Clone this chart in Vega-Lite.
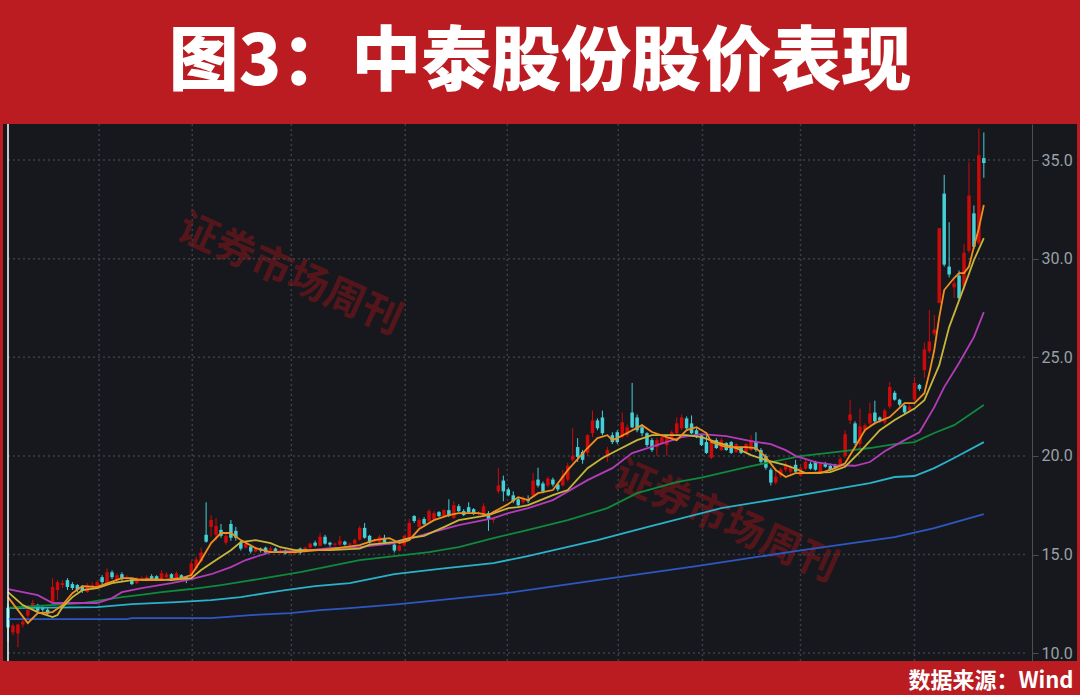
{
"$schema": "https://vega.github.io/schema/vega-lite/v6.json",
"width": 1074, "height": 537,
"autosize": {"type": "none"},
"padding": {"left": 3, "top": 124, "right": 3, "bottom": 34},
"background": "#BA1C21",
"view": {"fill": "#16181D", "stroke": null},
"title": {"text": "图3：中泰股份股价表现", "fontSize": 70, "font": "Noto Sans CJK SC", "fontWeight": 900, "color": "#FFFFFF", "anchor": "middle", "baseline": "alphabetic", "offset": -32},
"datasets": {
"wm": [{"i": 56.8, "v": 29.17, "t": "证券市场周刊"}, {"i": 144.8, "v": 16.64, "t": "证券市场周刊"}],
"gy": [{"v": 10}, {"v": 15}, {"v": 20}, {"v": 25}, {"v": 30}, {"v": 35}],
"gx": [{"i": 18.4}, {"i": 37.2}, {"i": 57.2}, {"i": 80.2}, {"i": 100.8}, {"i": 123.2}, {"i": 140.2}, {"i": 160}, {"i": 183}],
"k": [
{"i":0,"o":12.3,"h":12.5,"l":10.6,"c":11.3},{"i":1,"o":11.05,"h":11.5,"l":10.9,"c":11.4},{"i":2,"o":11.0,"h":11.5,"l":10.3,"c":11.45},{"i":3,"o":11.45,"h":11.8,"l":11.3,"c":11.6},{"i":4,"o":11.9,"h":12.35,"l":11.8,"c":12.2},{"i":5,"o":12.3,"h":12.7,"l":12.2,"c":12.55},{"i":6,"o":12.45,"h":12.5,"l":12.1,"c":12.15},{"i":7,"o":12.3,"h":12.4,"l":12.1,"c":12.2},{"i":8,"o":12.2,"h":12.3,"l":11.9,"c":12.0},{"i":9,"o":12.6,"h":13.8,"l":12.5,"c":13.35},
{"i":10,"o":13.2,"h":13.7,"l":12.7,"c":13.6},{"i":11,"o":13.45,"h":13.7,"l":13.3,"c":13.55},{"i":12,"o":13.7,"h":13.8,"l":13.2,"c":13.35},{"i":13,"o":13.5,"h":13.6,"l":13.2,"c":13.3},{"i":14,"o":13.45,"h":13.5,"l":13.1,"c":13.2},{"i":15,"o":13.35,"h":13.45,"l":13.05,"c":13.15},{"i":16,"o":13.1,"h":13.55,"l":13.05,"c":13.45},{"i":17,"o":13.3,"h":13.6,"l":13.2,"c":13.45},{"i":18,"o":13.3,"h":13.7,"l":13.25,"c":13.6},{"i":19,"o":13.85,"h":13.95,"l":13.5,"c":13.6},
{"i":20,"o":13.55,"h":14.3,"l":13.5,"c":14.1},{"i":21,"o":14.1,"h":14.2,"l":13.75,"c":13.85},{"i":22,"o":13.7,"h":14.05,"l":13.6,"c":13.95},{"i":23,"o":14.0,"h":14.1,"l":13.65,"c":13.75},{"i":24,"o":13.8,"h":13.95,"l":13.7,"c":13.85},{"i":25,"o":13.75,"h":13.8,"l":13.45,"c":13.5},{"i":26,"o":13.55,"h":13.85,"l":13.5,"c":13.75},{"i":27,"o":13.75,"h":13.9,"l":13.65,"c":13.8},{"i":28,"o":13.7,"h":13.95,"l":13.65,"c":13.85},{"i":29,"o":13.9,"h":14.0,"l":13.75,"c":13.8},
{"i":30,"o":13.9,"h":13.95,"l":13.65,"c":13.7},{"i":31,"o":13.75,"h":14.2,"l":13.7,"c":14.05},{"i":32,"o":13.85,"h":14.1,"l":13.8,"c":14.0},{"i":33,"o":14.0,"h":14.05,"l":13.75,"c":13.8},{"i":34,"o":13.8,"h":14.15,"l":13.75,"c":14.05},{"i":35,"o":13.95,"h":14.0,"l":13.75,"c":13.8},{"i":36,"o":13.85,"h":13.9,"l":13.55,"c":13.7},{"i":37,"o":13.85,"h":14.7,"l":13.8,"c":14.55},{"i":38,"o":14.3,"h":14.9,"l":14.2,"c":14.75},{"i":39,"o":14.65,"h":15.35,"l":14.6,"c":15.1},
{"i":40,"o":16.0,"h":17.65,"l":15.6,"c":15.65},{"i":41,"o":16.4,"h":17.0,"l":15.9,"c":16.75},{"i":42,"o":16.0,"h":16.85,"l":15.7,"c":16.45},{"i":43,"o":16.25,"h":16.55,"l":15.85,"c":15.95},{"i":44,"o":15.6,"h":16.1,"l":15.5,"c":15.95},{"i":45,"o":16.55,"h":16.75,"l":15.7,"c":15.85},{"i":46,"o":16.2,"h":16.4,"l":15.7,"c":15.85},{"i":47,"o":15.6,"h":15.7,"l":15.2,"c":15.3},{"i":48,"o":15.35,"h":15.65,"l":15.3,"c":15.55},{"i":49,"o":15.4,"h":15.5,"l":15.05,"c":15.15},
{"i":50,"o":15.15,"h":15.4,"l":15.1,"c":15.3},{"i":51,"o":15.3,"h":15.35,"l":15.1,"c":15.2},{"i":52,"o":15.35,"h":15.4,"l":15.0,"c":15.1},{"i":53,"o":15.2,"h":15.4,"l":15.1,"c":15.3},{"i":54,"o":15.3,"h":15.35,"l":15.1,"c":15.15},{"i":55,"o":15.1,"h":15.3,"l":15.05,"c":15.2},{"i":56,"o":15.2,"h":15.25,"l":15.0,"c":15.05},{"i":57,"o":15.05,"h":15.15,"l":15.0,"c":15.07},{"i":58,"o":15.05,"h":15.25,"l":15.0,"c":15.2},{"i":59,"o":15.3,"h":15.35,"l":15.0,"c":15.1},
{"i":60,"o":15.15,"h":15.4,"l":15.1,"c":15.35},{"i":61,"o":15.35,"h":15.6,"l":15.3,"c":15.55},{"i":62,"o":15.6,"h":15.7,"l":15.4,"c":15.45},{"i":63,"o":15.45,"h":16.1,"l":15.4,"c":15.9},{"i":64,"o":15.9,"h":16.0,"l":15.5,"c":15.55},{"i":65,"o":15.6,"h":15.65,"l":15.4,"c":15.5},{"i":66,"o":15.5,"h":15.6,"l":15.4,"c":15.55},{"i":67,"o":15.5,"h":15.95,"l":15.45,"c":15.7},{"i":68,"o":15.65,"h":15.7,"l":15.45,"c":15.5},{"i":69,"o":15.5,"h":15.6,"l":15.4,"c":15.55},
{"i":70,"o":15.55,"h":15.8,"l":15.5,"c":15.75},{"i":71,"o":15.75,"h":16.45,"l":15.7,"c":16.35},{"i":72,"o":16.35,"h":16.6,"l":15.8,"c":15.85},{"i":73,"o":15.95,"h":16.0,"l":15.55,"c":15.6},{"i":74,"o":15.65,"h":15.8,"l":15.6,"c":15.75},{"i":75,"o":15.6,"h":16.0,"l":15.55,"c":15.9},{"i":76,"o":15.85,"h":16.0,"l":15.5,"c":15.6},{"i":77,"o":15.6,"h":15.65,"l":15.5,"c":15.55},{"i":78,"o":15.5,"h":15.55,"l":15.1,"c":15.2},{"i":79,"o":15.2,"h":15.5,"l":15.15,"c":15.45},
{"i":80,"o":15.45,"h":16.0,"l":15.4,"c":15.95},{"i":81,"o":15.8,"h":16.8,"l":15.75,"c":16.6},{"i":82,"o":16.95,"h":17.0,"l":16.6,"c":16.7},{"i":83,"o":16.4,"h":16.85,"l":16.35,"c":16.75},{"i":84,"o":16.8,"h":16.9,"l":16.5,"c":16.55},{"i":85,"o":16.7,"h":17.3,"l":16.65,"c":17.2},{"i":86,"o":16.8,"h":17.2,"l":16.75,"c":17.1},{"i":87,"o":17.15,"h":17.2,"l":16.9,"c":16.95},{"i":88,"o":16.95,"h":17.3,"l":16.9,"c":17.25},{"i":89,"o":17.25,"h":17.8,"l":16.9,"c":16.95},
{"i":90,"o":16.85,"h":17.7,"l":16.8,"c":17.5},{"i":91,"o":17.45,"h":17.55,"l":17.15,"c":17.2},{"i":92,"o":17.2,"h":17.3,"l":16.95,"c":17.0},{"i":93,"o":17.4,"h":17.65,"l":17.1,"c":17.15},{"i":94,"o":17.3,"h":17.35,"l":17.0,"c":17.05},{"i":95,"o":17.05,"h":17.2,"l":16.95,"c":17.1},{"i":96,"o":17.05,"h":17.6,"l":17.0,"c":17.45},{"i":97,"o":17.1,"h":17.2,"l":16.2,"c":16.8},{"i":98,"o":16.75,"h":16.85,"l":16.6,"c":16.8},{"i":99,"o":18.2,"h":19.4,"l":18.1,"c":18.5},
{"i":100,"o":18.75,"h":19.0,"l":17.7,"c":18.2},{"i":101,"o":18.3,"h":18.4,"l":17.95,"c":18.0},{"i":102,"o":18.0,"h":18.2,"l":17.6,"c":17.7},{"i":103,"o":17.8,"h":17.9,"l":17.4,"c":17.5},{"i":104,"o":17.65,"h":17.95,"l":17.55,"c":17.85},{"i":105,"o":17.8,"h":18.0,"l":17.6,"c":17.7},{"i":106,"o":18.0,"h":19.15,"l":17.95,"c":18.75},{"i":107,"o":18.8,"h":19.4,"l":18.4,"c":18.5},{"i":108,"o":18.6,"h":18.7,"l":18.1,"c":18.2},{"i":109,"o":18.5,"h":18.95,"l":18.4,"c":18.85},
{"i":110,"o":18.8,"h":18.9,"l":18.45,"c":18.55},{"i":111,"o":18.55,"h":18.6,"l":18.2,"c":18.3},{"i":112,"o":18.5,"h":19.3,"l":18.45,"c":19.0},{"i":113,"o":18.8,"h":19.65,"l":18.7,"c":19.5},{"i":114,"o":19.8,"h":21.4,"l":19.7,"c":20.0},{"i":115,"o":20.45,"h":20.9,"l":19.7,"c":19.95},{"i":116,"o":20.2,"h":20.3,"l":19.6,"c":19.8},{"i":117,"o":20.15,"h":21.1,"l":20.0,"c":21.05},{"i":118,"o":21.15,"h":22.3,"l":20.95,"c":21.8},{"i":119,"o":21.8,"h":21.9,"l":21.3,"c":21.4},
{"i":120,"o":21.95,"h":22.3,"l":21.05,"c":21.15},{"i":121,"o":19.95,"h":20.45,"l":19.7,"c":20.3},{"i":122,"o":21.05,"h":21.2,"l":20.6,"c":20.7},{"i":123,"o":21.2,"h":21.3,"l":20.6,"c":20.7},{"i":124,"o":20.95,"h":22.2,"l":20.9,"c":21.7},{"i":125,"o":21.05,"h":21.6,"l":20.95,"c":21.45},{"i":126,"o":22.2,"h":23.7,"l":21.4,"c":21.45},{"i":127,"o":21.95,"h":22.1,"l":21.2,"c":21.3},{"i":128,"o":21.45,"h":21.6,"l":21.0,"c":21.15},{"i":129,"o":21.15,"h":21.2,"l":20.45,"c":20.55},
{"i":130,"o":20.8,"h":20.9,"l":20.2,"c":20.3},{"i":131,"o":20.45,"h":20.9,"l":20.0,"c":20.8},{"i":132,"o":20.65,"h":21.1,"l":20.6,"c":20.95},{"i":133,"o":20.55,"h":21.0,"l":20.0,"c":20.9},{"i":134,"o":20.9,"h":21.3,"l":20.85,"c":21.2},{"i":135,"o":21.15,"h":21.95,"l":21.1,"c":21.65},{"i":136,"o":21.4,"h":22.1,"l":21.3,"c":21.95},{"i":137,"o":21.9,"h":22.0,"l":21.35,"c":21.4},{"i":138,"o":21.65,"h":22.05,"l":21.1,"c":21.15},{"i":139,"o":21.3,"h":21.4,"l":20.9,"c":20.95},
{"i":140,"o":21.05,"h":21.1,"l":20.5,"c":20.55},{"i":141,"o":20.7,"h":21.2,"l":20.1,"c":20.15},{"i":142,"o":19.9,"h":20.8,"l":19.85,"c":20.7},{"i":143,"o":20.8,"h":20.9,"l":20.35,"c":20.4},{"i":144,"o":20.3,"h":20.9,"l":20.25,"c":20.8},{"i":145,"o":20.65,"h":20.7,"l":20.25,"c":20.3},{"i":146,"o":20.7,"h":20.75,"l":20.1,"c":20.15},{"i":147,"o":20.2,"h":20.65,"l":20.15,"c":20.6},{"i":148,"o":20.45,"h":20.5,"l":20.1,"c":20.15},{"i":149,"o":20.2,"h":20.65,"l":20.15,"c":20.6},
{"i":150,"o":20.3,"h":21.05,"l":20.25,"c":20.8},{"i":151,"o":20.7,"h":21.2,"l":20.2,"c":20.3},{"i":152,"o":20.3,"h":20.4,"l":19.6,"c":19.7},{"i":153,"o":20.0,"h":20.1,"l":19.3,"c":19.4},{"i":154,"o":19.3,"h":19.4,"l":18.5,"c":18.65},{"i":155,"o":18.65,"h":19.3,"l":18.55,"c":18.95},{"i":156,"o":19.0,"h":19.4,"l":18.9,"c":19.3},{"i":157,"o":19.3,"h":19.7,"l":19.2,"c":19.55},{"i":158,"o":19.2,"h":19.55,"l":19.1,"c":19.45},{"i":159,"o":19.55,"h":19.8,"l":19.1,"c":19.2},
{"i":160,"o":19.0,"h":19.5,"l":18.95,"c":19.4},{"i":161,"o":19.35,"h":19.85,"l":19.3,"c":19.7},{"i":162,"o":19.6,"h":19.7,"l":19.3,"c":19.35},{"i":163,"o":19.7,"h":19.75,"l":19.25,"c":19.3},{"i":164,"o":19.15,"h":19.7,"l":19.1,"c":19.6},{"i":165,"o":19.6,"h":19.7,"l":19.4,"c":19.45},{"i":166,"o":19.5,"h":19.6,"l":19.25,"c":19.3},{"i":167,"o":19.55,"h":19.6,"l":19.35,"c":19.4},{"i":168,"o":19.45,"h":19.95,"l":19.4,"c":19.85},{"i":169,"o":20.0,"h":21.3,"l":19.9,"c":21.1},
{"i":170,"o":21.8,"h":22.85,"l":21.6,"c":22.1},{"i":171,"o":21.65,"h":21.75,"l":20.55,"c":20.65},{"i":172,"o":20.6,"h":22.4,"l":20.3,"c":21.5},{"i":173,"o":21.3,"h":21.65,"l":21.2,"c":21.55},{"i":174,"o":21.65,"h":22.7,"l":21.55,"c":22.15},{"i":175,"o":22.2,"h":22.8,"l":21.6,"c":21.75},{"i":176,"o":21.95,"h":22.0,"l":21.7,"c":21.8},{"i":177,"o":21.7,"h":22.4,"l":21.6,"c":22.3},{"i":178,"o":22.5,"h":23.75,"l":22.4,"c":23.5},{"i":179,"o":23.2,"h":23.3,"l":22.8,"c":22.85},
{"i":180,"o":22.85,"h":22.9,"l":22.5,"c":22.6},{"i":181,"o":22.55,"h":22.6,"l":22.1,"c":22.2},{"i":182,"o":22.3,"h":22.6,"l":22.2,"c":22.5},{"i":183,"o":22.85,"h":24.0,"l":22.8,"c":23.7},{"i":184,"o":23.6,"h":23.65,"l":23.3,"c":23.4},{"i":185,"o":24.35,"h":25.75,"l":23.95,"c":25.4},{"i":186,"o":25.3,"h":27.4,"l":25.2,"c":25.8},{"i":187,"o":26.2,"h":27.15,"l":26.1,"c":26.4},{"i":188,"o":27.75,"h":31.55,"l":27.75,"c":31.55},{"i":189,"o":33.3,"h":34.25,"l":29.6,"c":29.7},
{"i":190,"o":29.6,"h":31.85,"l":29.05,"c":29.2},{"i":191,"o":28.55,"h":28.95,"l":28.0,"c":28.75},{"i":192,"o":29.15,"h":29.4,"l":27.9,"c":28.0},{"i":193,"o":28.6,"h":30.75,"l":28.4,"c":30.3},{"i":194,"o":30.4,"h":34.9,"l":30.3,"c":33.2},{"i":195,"o":32.3,"h":32.7,"l":30.5,"c":30.6},{"i":196,"o":30.8,"h":36.6,"l":30.7,"c":35.25},{"i":197,"o":35.1,"h":36.4,"l":34.1,"c":34.85}
],
"ma": [
{"s":"MA250","i":0,"v":11.72},{"s":"MA250","i":24,"v":11.72},{"s":"MA250","i":25,"v":11.77},{"s":"MA250","i":41,"v":11.77},{"s":"MA250","i":49,"v":11.93},{"s":"MA250","i":57,"v":12.03},{"s":"MA250","i":63,"v":12.18},{"s":"MA250","i":69,"v":12.28},{"s":"MA250","i":79,"v":12.48},{"s":"MA250","i":99,"v":12.99},{"s":"MA250","i":119,"v":13.7},{"s":"MA250","i":139,"v":14.41},{"s":"MA250","i":159,"v":15.17},{"s":"MA250","i":179,"v":15.88},{"s":"MA250","i":187,"v":16.34},{"s":"MA250","i":197,"v":17.05},
{"s":"MA120","i":0,"v":12.28},{"s":"MA120","i":18,"v":12.33},{"s":"MA120","i":25,"v":12.48},{"s":"MA120","i":34,"v":12.59},{"s":"MA120","i":41,"v":12.69},{"s":"MA120","i":47,"v":12.84},{"s":"MA120","i":52,"v":13.04},{"s":"MA120","i":56,"v":13.19},{"s":"MA120","i":62,"v":13.4},{"s":"MA120","i":69,"v":13.55},{"s":"MA120","i":78,"v":14.0},{"s":"MA120","i":88,"v":14.3},{"s":"MA120","i":98,"v":14.56},{"s":"MA120","i":104,"v":14.87},{"s":"MA120","i":119,"v":15.73},{"s":"MA120","i":129,"v":16.39},{"s":"MA120","i":144,"v":17.35},{"s":"MA120","i":160,"v":18.01},{"s":"MA120","i":174,"v":18.62},{"s":"MA120","i":179,"v":18.93},{"s":"MA120","i":183,"v":18.98},{"s":"MA120","i":187,"v":19.38},{"s":"MA120","i":191,"v":19.89},{"s":"MA120","i":197,"v":20.7},
{"s":"MA60","i":0,"v":12.3},{"s":"MA60","i":12,"v":12.48},{"s":"MA60","i":15,"v":12.54},{"s":"MA60","i":19,"v":12.69},{"s":"MA60","i":23,"v":12.84},{"s":"MA60","i":28,"v":12.99},{"s":"MA60","i":31,"v":13.09},{"s":"MA60","i":37,"v":13.25},{"s":"MA60","i":43,"v":13.45},{"s":"MA60","i":48,"v":13.65},{"s":"MA60","i":53,"v":13.85},{"s":"MA60","i":59,"v":14.11},{"s":"MA60","i":65,"v":14.41},{"s":"MA60","i":71,"v":14.72},{"s":"MA60","i":78,"v":14.92},{"s":"MA60","i":85,"v":15.12},{"s":"MA60","i":91,"v":15.37},{"s":"MA60","i":98,"v":15.83},{"s":"MA60","i":104,"v":16.19},{"s":"MA60","i":113,"v":16.74},{"s":"MA60","i":121,"v":17.35},{"s":"MA60","i":127,"v":18.11},{"s":"MA60","i":135,"v":18.67},{"s":"MA60","i":140,"v":18.9},{"s":"MA60","i":150,"v":19.48},{"s":"MA60","i":160,"v":19.99},{"s":"MA60","i":167,"v":20.19},{"s":"MA60","i":174,"v":20.4},{"s":"MA60","i":179,"v":20.6},{"s":"MA60","i":183,"v":20.7},{"s":"MA60","i":187,"v":21.16},{"s":"MA60","i":191,"v":21.56},{"s":"MA60","i":197,"v":22.58},
{"s":"MA20","i":0,"v":13.25},{"s":"MA20","i":6,"v":12.94},{"s":"MA20","i":9,"v":12.54},{"s":"MA20","i":15,"v":12.54},{"s":"MA20","i":18,"v":12.54},{"s":"MA20","i":21,"v":12.79},{"s":"MA20","i":23,"v":13.09},{"s":"MA20","i":27,"v":13.3},{"s":"MA20","i":33,"v":13.55},{"s":"MA20","i":37,"v":13.75},{"s":"MA20","i":41,"v":14.0},{"s":"MA20","i":45,"v":14.36},{"s":"MA20","i":48,"v":14.72},{"s":"MA20","i":53,"v":15.12},{"s":"MA20","i":61,"v":15.22},{"s":"MA20","i":65,"v":15.32},{"s":"MA20","i":71,"v":15.37},{"s":"MA20","i":78,"v":15.58},{"s":"MA20","i":85,"v":16.09},{"s":"MA20","i":91,"v":16.49},{"s":"MA20","i":98,"v":16.85},{"s":"MA20","i":101,"v":17.1},{"s":"MA20","i":105,"v":17.35},{"s":"MA20","i":110,"v":17.76},{"s":"MA20","i":117,"v":18.77},{"s":"MA20","i":122,"v":19.38},{"s":"MA20","i":126,"v":20.14},{"s":"MA20","i":131,"v":20.55},{"s":"MA20","i":136,"v":20.95},{"s":"MA20","i":140,"v":21.1},{"s":"MA20","i":145,"v":21.0},{"s":"MA20","i":150,"v":20.75},{"s":"MA20","i":154,"v":20.6},{"s":"MA20","i":157,"v":20.29},{"s":"MA20","i":159,"v":20.0},{"s":"MA20","i":163,"v":19.69},{"s":"MA20","i":167,"v":19.53},{"s":"MA20","i":171,"v":19.5},{"s":"MA20","i":174,"v":19.69},{"s":"MA20","i":177,"v":20.24},{"s":"MA20","i":181,"v":20.8},{"s":"MA20","i":184,"v":21.2},{"s":"MA20","i":187,"v":22.47},{"s":"MA20","i":189,"v":23.49},{"s":"MA20","i":192,"v":24.71},{"s":"MA20","i":195,"v":26.02},{"s":"MA20","i":197,"v":27.29},
{"s":"MA10","i":0,"v":13.09},{"s":"MA10","i":3,"v":12.43},{"s":"MA10","i":6,"v":12.08},{"s":"MA10","i":9,"v":11.83},{"s":"MA10","i":10,"v":11.93},{"s":"MA10","i":11,"v":12.33},{"s":"MA10","i":13,"v":12.84},{"s":"MA10","i":15,"v":13.19},{"s":"MA10","i":18,"v":13.3},{"s":"MA10","i":21,"v":13.55},{"s":"MA10","i":25,"v":13.7},{"s":"MA10","i":29,"v":13.75},{"s":"MA10","i":33,"v":13.7},{"s":"MA10","i":37,"v":13.8},{"s":"MA10","i":39,"v":14.21},{"s":"MA10","i":42,"v":14.72},{"s":"MA10","i":45,"v":15.22},{"s":"MA10","i":47,"v":15.63},{"s":"MA10","i":50,"v":15.73},{"s":"MA10","i":53,"v":15.58},{"s":"MA10","i":55,"v":15.37},{"s":"MA10","i":58,"v":15.22},{"s":"MA10","i":65,"v":15.22},{"s":"MA10","i":71,"v":15.3},{"s":"MA10","i":73,"v":15.5},{"s":"MA10","i":78,"v":15.63},{"s":"MA10","i":81,"v":15.83},{"s":"MA10","i":84,"v":15.95},{"s":"MA10","i":88,"v":16.39},{"s":"MA10","i":91,"v":16.74},{"s":"MA10","i":97,"v":17.0},{"s":"MA10","i":101,"v":17.35},{"s":"MA10","i":103,"v":17.4},{"s":"MA10","i":105,"v":17.5},{"s":"MA10","i":110,"v":18.01},{"s":"MA10","i":113,"v":18.27},{"s":"MA10","i":117,"v":19.38},{"s":"MA10","i":120,"v":19.89},{"s":"MA10","i":123,"v":20.29},{"s":"MA10","i":127,"v":20.8},{"s":"MA10","i":130,"v":21.05},{"s":"MA10","i":134,"v":21.05},{"s":"MA10","i":137,"v":21.05},{"s":"MA10","i":140,"v":20.95},{"s":"MA10","i":143,"v":20.7},{"s":"MA10","i":147,"v":20.4},{"s":"MA10","i":150,"v":20.04},{"s":"MA10","i":153,"v":19.79},{"s":"MA10","i":157,"v":19.53},{"s":"MA10","i":159,"v":19.35},{"s":"MA10","i":161,"v":19.13},{"s":"MA10","i":166,"v":19.18},{"s":"MA10","i":169,"v":19.45},{"s":"MA10","i":172,"v":20.2},{"s":"MA10","i":176,"v":21.3},{"s":"MA10","i":179,"v":21.82},{"s":"MA10","i":183,"v":22.4},{"s":"MA10","i":185,"v":22.83},{"s":"MA10","i":188,"v":24.6},{"s":"MA10","i":190,"v":26.53},{"s":"MA10","i":193,"v":28.56},{"s":"MA10","i":195,"v":29.93},{"s":"MA10","i":197,"v":31.04},
{"s":"MA5","i":0,"v":12.84},{"s":"MA5","i":4,"v":11.52},{"s":"MA5","i":6,"v":12.03},{"s":"MA5","i":9,"v":12.08},{"s":"MA5","i":11,"v":12.43},{"s":"MA5","i":13,"v":13.04},{"s":"MA5","i":15,"v":13.4},{"s":"MA5","i":18,"v":13.35},{"s":"MA5","i":19,"v":13.45},{"s":"MA5","i":23,"v":13.8},{"s":"MA5","i":25,"v":13.8},{"s":"MA5","i":27,"v":13.7},{"s":"MA5","i":31,"v":13.7},{"s":"MA5","i":35,"v":13.8},{"s":"MA5","i":37,"v":13.96},{"s":"MA5","i":39,"v":14.72},{"s":"MA5","i":41,"v":15.58},{"s":"MA5","i":43,"v":16.09},{"s":"MA5","i":45,"v":16.09},{"s":"MA5","i":47,"v":15.73},{"s":"MA5","i":50,"v":15.32},{"s":"MA5","i":53,"v":15.12},{"s":"MA5","i":58,"v":15.12},{"s":"MA5","i":65,"v":15.27},{"s":"MA5","i":68,"v":15.37},{"s":"MA5","i":71,"v":15.48},{"s":"MA5","i":74,"v":15.73},{"s":"MA5","i":77,"v":15.83},{"s":"MA5","i":79,"v":15.58},{"s":"MA5","i":81,"v":15.73},{"s":"MA5","i":83,"v":16.29},{"s":"MA5","i":86,"v":16.74},{"s":"MA5","i":89,"v":17.0},{"s":"MA5","i":91,"v":17.1},{"s":"MA5","i":95,"v":17.1},{"s":"MA5","i":97,"v":17.0},{"s":"MA5","i":98,"v":17.15},{"s":"MA5","i":101,"v":17.56},{"s":"MA5","i":103,"v":17.91},{"s":"MA5","i":105,"v":17.76},{"s":"MA5","i":107,"v":18.11},{"s":"MA5","i":110,"v":18.27},{"s":"MA5","i":113,"v":19.28},{"s":"MA5","i":117,"v":20.4},{"s":"MA5","i":119,"v":20.9},{"s":"MA5","i":121,"v":21.05},{"s":"MA5","i":122,"v":20.8},{"s":"MA5","i":123,"v":20.9},{"s":"MA5","i":125,"v":21.16},{"s":"MA5","i":128,"v":21.56},{"s":"MA5","i":130,"v":21.21},{"s":"MA5","i":133,"v":20.95},{"s":"MA5","i":135,"v":20.8},{"s":"MA5","i":137,"v":21.31},{"s":"MA5","i":139,"v":21.46},{"s":"MA5","i":141,"v":21.16},{"s":"MA5","i":142,"v":20.7},{"s":"MA5","i":145,"v":20.45},{"s":"MA5","i":149,"v":20.45},{"s":"MA5","i":151,"v":20.4},{"s":"MA5","i":153,"v":19.94},{"s":"MA5","i":155,"v":19.28},{"s":"MA5","i":157,"v":18.93},{"s":"MA5","i":159,"v":19.13},{"s":"MA5","i":161,"v":19.13},{"s":"MA5","i":164,"v":19.13},{"s":"MA5","i":167,"v":19.38},{"s":"MA5","i":169,"v":19.63},{"s":"MA5","i":171,"v":20.45},{"s":"MA5","i":173,"v":21.31},{"s":"MA5","i":175,"v":21.66},{"s":"MA5","i":178,"v":21.97},{"s":"MA5","i":181,"v":22.68},{"s":"MA5","i":183,"v":22.68},{"s":"MA5","i":185,"v":23.18},{"s":"MA5","i":186,"v":24.2},{"s":"MA5","i":187,"v":25.37},{"s":"MA5","i":188,"v":27.04},{"s":"MA5","i":189,"v":28.41},{"s":"MA5","i":191,"v":29.02},{"s":"MA5","i":192,"v":29.27},{"s":"MA5","i":193,"v":29.27},{"s":"MA5","i":194,"v":29.6},{"s":"MA5","i":195,"v":30.6},{"s":"MA5","i":196,"v":31.55},{"s":"MA5","i":197,"v":32.72}
]
},
"layer": [
{"data": {"name": "wm"},
 "mark": {"type": "text", "angle": 24, "fontSize": 40, "font": "Noto Sans CJK SC", "fontWeight": "bold", "color": "#55161B"},
 "encoding": {
  "x": {"field": "i", "type": "quantitative", "scale": {"domain": [0, 214.8], "nice": false, "zero": false},
        "axis": {"orient": "bottom", "domain": false, "ticks": false, "labels": false, "grid": false, "title": "数据来源：Wind", "titleColor": "#FFFFFF", "titleFont": "Noto Sans CJK SC", "titleFontSize": 22, "titleFontWeight": "bold", "titleAnchor": "end", "titleAlign": "right", "titleBaseline": "bottom", "titlePadding": 31, "titleX": 1070}},
  "y": {"field": "v", "type": "quantitative", "scale": {"domain": [9.6, 36.83], "nice": false, "zero": false},
        "axis": {"orient": "right", "offset": -45, "values": [10, 15, 20, 25, 30, 35], "format": ".1f", "domainColor": "#4A4E55", "tickColor": "#4A4E55", "tickSize": 6, "labelColor": "#9AA0A6", "labelFont": "Roboto", "labelFontSize": 16, "labelPadding": 3, "grid": false, "title": null}},
  "text": {"field": "t"}
 }},
{"data": {"name": "gy"},
 "mark": {"type": "rule", "color": "#3A3E45", "strokeWidth": 1.5, "strokeDash": [2, 3]},
 "encoding": {"y": {"field": "v", "type": "quantitative"}, "x": {"datum": 0}, "x2": {"datum": 205.8}}},
{"data": {"name": "gx"},
 "mark": {"type": "rule", "color": "#3A3E45", "strokeWidth": 1.5, "strokeDash": [2, 3]},
 "encoding": {"x": {"field": "i", "type": "quantitative"}}},
{"data": {"name": "k"},
 "mark": {"type": "rule", "strokeWidth": 1, "clip": true},
 "encoding": {
  "x": {"field": "i", "type": "quantitative"},
  "y": {"field": "l", "type": "quantitative"},
  "y2": {"field": "h"},
  "color": {"condition": {"test": "datum.c >= datum.o", "value": "#CC0A0A"}, "value": "#45CFD6"}
 }},
{"data": {"name": "k"},
 "mark": {"type": "bar", "size": 3.5, "clip": true},
 "encoding": {
  "x": {"field": "i", "type": "quantitative"},
  "y": {"field": "o", "type": "quantitative"},
  "y2": {"field": "c"},
  "color": {"condition": {"test": "datum.c >= datum.o", "value": "#CC0A0A"}, "value": "#45CFD6"}
 }},
{"data": {"name": "ma"},
 "mark": {"type": "line", "strokeWidth": 1.8, "clip": true},
 "encoding": {
  "x": {"field": "i", "type": "quantitative"},
  "y": {"field": "v", "type": "quantitative"},
  "color": {"field": "s", "type": "nominal", "legend": null,
            "scale": {"domain": ["MA250", "MA120", "MA60", "MA20", "MA10", "MA5"], "range": ["#2E57C2", "#2AB2C8", "#0F8A3C", "#B43CB8", "#C9B53A", "#F0901E"]}}
 }},
{"data": {"values": [{"e": 0}]},
 "mark": {"type": "rule", "color": "#FFFFFF", "strokeWidth": 1.5},
 "encoding": {"x": {"datum": 0}}}
]
}
